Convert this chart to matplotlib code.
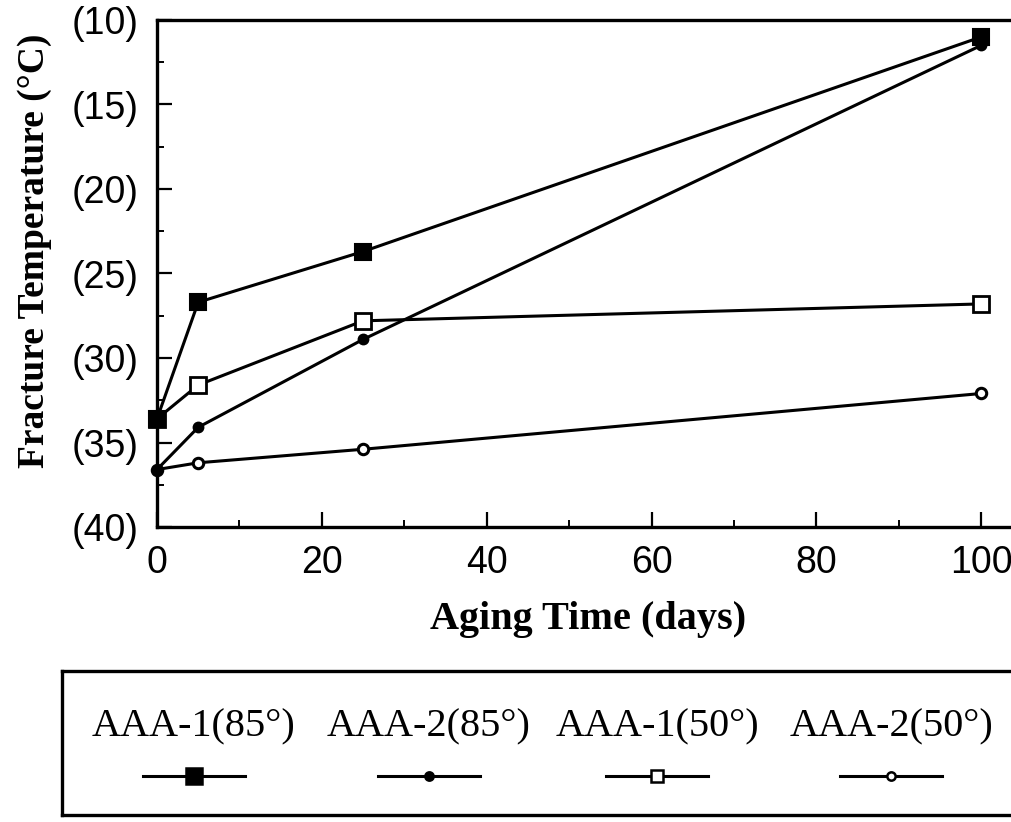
import matplotlib
matplotlib.use("Agg")
import matplotlib.pyplot as plt
from matplotlib.ticker import MultipleLocator, FuncFormatter

# ---- data ----
aging_days = [0, 5, 25, 100]
series_labels = ["AAA-1(85°)", "AAA-2(85°)", "AAA-1(50°)", "AAA-2(50°)"]
aaa1_85 = [-33.6, -26.7, -23.7, -11.0]
aaa2_85 = [-36.6, -34.1, -28.9, -11.5]
aaa1_50 = [-33.6, -31.6, -27.8, -26.8]
aaa2_50 = [-36.6, -36.2, -35.4, -32.1]
y_ticks = [-40, -35, -30, -25, -20, -15, -10]
x_ticks = [0, 20, 40, 60, 80, 100]

# ---- styles ----
styles = {
    "AAA-1(85°)": dict(marker="s", ms=12, mfc="black", mec="black", mew=1.5, z=5),
    "AAA-2(85°)": dict(marker="o", ms=7, mfc="black", mec="black", mew=1.5, z=4),
    "AAA-1(50°)": dict(marker="s", ms=12, mfc="white", mec="black", mew=2.0, z=3),
    "AAA-2(50°)": dict(marker="o", ms=7.5, mfc="white", mec="black", mew=2.2, z=2),
}
series_values = {"AAA-1(85°)": aaa1_85, "AAA-2(85°)": aaa2_85,
                 "AAA-1(50°)": aaa1_50, "AAA-2(50°)": aaa2_50}

W, H = 1011, 822
fig = plt.figure(figsize=(W / 100, H / 100), dpi=100)

# axes placement in pixels
ax_l, ax_r, ax_t, ax_b = 157, 1020, 20, 527
ax = fig.add_axes([ax_l / W, 1 - ax_b / H, (ax_r - ax_l) / W, (ax_b - ax_t) / H])

# draw order: open markers first so filled ones sit on top at shared points
for name in ["AAA-2(50°)", "AAA-1(50°)", "AAA-2(85°)", "AAA-1(85°)"]:
    st = styles[name]
    ax.plot(aging_days, series_values[name], color="black", lw=2.2,
            marker=st["marker"], ms=st["ms"], mfc=st["mfc"], mec=st["mec"],
            mew=st["mew"], zorder=st["z"], clip_on=False)

ax.set_xlim(0, 104.7)
ax.set_ylim(-40, -10)
ax.set_xticks(x_ticks)
ax.set_yticks(y_ticks)
ax.xaxis.set_minor_locator(MultipleLocator(10))
ax.yaxis.set_minor_locator(MultipleLocator(2.5))
ax.yaxis.set_major_formatter(FuncFormatter(lambda v, p: f"({abs(int(round(v)))})"))

for lab in ax.get_xticklabels() + ax.get_yticklabels():
    lab.set_fontfamily("Liberation Sans")
    lab.set_fontsize(27)
ax.tick_params(axis="both", which="major", direction="in", length=11, width=1.6)
ax.tick_params(axis="both", which="minor", direction="in", length=5, width=1.4)
ax.tick_params(axis="y", which="major", pad=13)
ax.tick_params(axis="x", which="major", pad=13)
ax.tick_params(top=False, right=False, which="both")

for sp in ax.spines.values():
    sp.set_linewidth(2.4)

ax.set_ylabel("Fracture Temperature (°C)", family="Liberation Serif",
              weight="bold", size=27)
ax.yaxis.set_label_coords(-0.1414, 0.544)
ax.yaxis.label.set_verticalalignment("center")
ax.set_xlabel("Aging Time (days)", family="Liberation Serif", weight="bold", size=29)
ax.xaxis.set_label_coords(0.4996, -0.145)
ax.xaxis.label.set_verticalalignment("top")

# ---- legend box (text above sample lines) ----
lg_l, lg_r, lg_t, lg_b = 62, 1030, 671, 815
lax = fig.add_axes([lg_l / W, 1 - lg_b / H, (lg_r - lg_l) / W, (lg_b - lg_t) / H])
lax.set_xlim(lg_l, lg_r)
lax.set_ylim(lg_b, lg_t)
lax.set_xticks([])
lax.set_yticks([])
for sp in lax.spines.values():
    sp.set_linewidth(2.4)
col_centers = [194, 429, 657, 891]
leg_ms = {"AAA-1(85°)": 11, "AAA-2(85°)": 6, "AAA-1(50°)": 9, "AAA-2(50°)": 6}
for name, cx in zip(series_labels, col_centers):
    st = styles[name]
    lax.text(cx, 736, name, ha="center", va="baseline",
             family="Liberation Serif", size=29)
    lax.plot([cx - 51, cx, cx + 51], [776, 776, 776], color="black", lw=2.2,
             marker=st["marker"], markevery=[1], ms=leg_ms[name],
             mfc=st["mfc"], mec="black", mew=1.8)

fig.savefig("out.png", dpi=100, facecolor="white")
